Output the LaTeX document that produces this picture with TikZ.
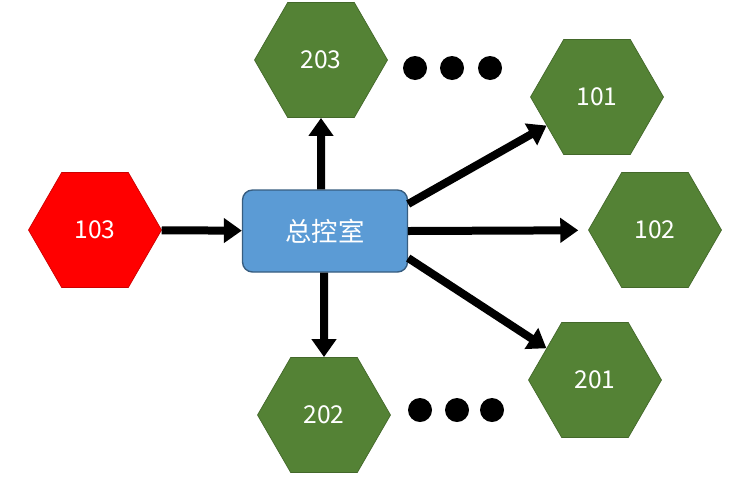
\documentclass[tikz,border=0pt]{standalone}
\usepackage{fontspec}
\setmainfont{Noto Sans CJK SC}
\usetikzlibrary{shapes.geometric,arrows.meta}
\definecolor{hexgreen}{HTML}{548235}
\definecolor{boxblue}{HTML}{5B9BD5}
\tikzset{
  hexa/.style={regular polygon, regular polygon sides=6, shape border rotate=0,
    minimum size=2.66cm, inner sep=0pt, fill=hexgreen, draw=hexgreen!80!black,
    text=white, font=\fontsize{14}{16}\selectfont},
  link/.style={line width=0.16cm, -{Triangle[length=0.36cm,width=0.48cm]}},
  dot/.style={circle, fill=black, minimum size=0.48cm, inner sep=0pt}
}
\begin{document}
\begin{tikzpicture}[x=0.02cm,y=-0.02cm]
  \useasboundingbox (0,0) rectangle (749,484);
  \node[hexa, fill=red, draw=red!80!black] (h103) at (95,230) {103};
  \node[hexa] (h203) at (321,60) {203};
  \node[hexa] (h101) at (597,97) {101};
  \node[hexa] (h102) at (655,230) {102};
  \node[hexa] (h201) at (595,380) {201};
  \node[hexa] (h202) at (324,415) {202};
  \node[draw=boxblue!60!black, fill=boxblue, rounded corners=0.2cm, line width=0.8pt,
    minimum width=3.3cm, minimum height=1.64cm, text=white,
    font=\fontsize{15}{17}\selectfont] (box) at (325,231) {总控室};
  % dots
  \foreach \x in {415,452,490} \node[dot] at (\x,68) {};
  \foreach \x in {420,457,492} \node[dot] at (\x,410) {};
  % links
  \draw[link] (h103) -- (box);
  \draw[link] (box.north -| h203) -- (h203);
  \draw[link] (box.south -| h202) -- (h202);
  \draw[link] (box.18) -- (h101);
  \draw[link, shorten >=0.2cm] (box.east) -- (h102);
  \draw[link] (box.-18) -- (h201);
\end{tikzpicture}
\end{document}
